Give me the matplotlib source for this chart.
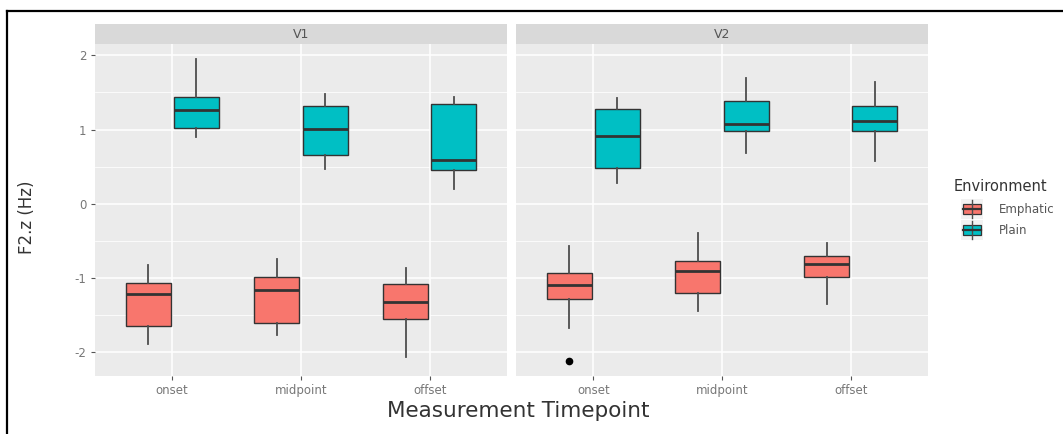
import numpy as np
import matplotlib
matplotlib.use("Agg")
import matplotlib.pyplot as plt
from matplotlib.patches import Rectangle
from matplotlib.lines import Line2D
from matplotlib.ticker import FixedLocator

# ---- data -------------------------------------------------------------
timepoints = ["onset", "midpoint", "offset"]
vowels = ["V1", "V2"]
environments = ["Emphatic", "Plain"]
env_colors = ["#F8766D", "#00BFC4"]

# V1, Emphatic
v1_emph_whislo = [-1.89, -1.77, -2.07]
v1_emph_q1 = [-1.65, -1.61, -1.56]
v1_emph_med = [-1.22, -1.16, -1.33]
v1_emph_q3 = [-1.07, -0.99, -1.08]
v1_emph_whishi = [-0.83, -0.74, -0.87]
v1_emph_outliers = [[], [], []]

# V1, Plain
v1_plain_whislo = [0.90, 0.47, 0.20]
v1_plain_q1 = [1.02, 0.66, 0.45]
v1_plain_med = [1.27, 1.01, 0.59]
v1_plain_q3 = [1.44, 1.32, 1.34]
v1_plain_whishi = [1.95, 1.48, 1.44]
v1_plain_outliers = [[], [], []]

# V2, Emphatic
v2_emph_whislo = [-1.67, -1.45, -1.35]
v2_emph_q1 = [-1.29, -1.20, -0.99]
v2_emph_med = [-1.10, -0.91, -0.81]
v2_emph_q3 = [-0.94, -0.77, -0.70]
v2_emph_whishi = [-0.57, -0.40, -0.53]
v2_emph_outliers = [[-2.12], [], []]

# V2, Plain
v2_plain_whislo = [0.28, 0.68, 0.57]
v2_plain_q1 = [0.48, 0.98, 0.98]
v2_plain_med = [0.91, 1.07, 1.11]
v2_plain_q3 = [1.28, 1.39, 1.32]
v2_plain_whishi = [1.42, 1.69, 1.64]
v2_plain_outliers = [[], [], []]

y_ticks = [-2, -1, 0, 1, 2]
y_minor = [-1.5, -0.5, 0.5, 1.5]

panel_data = {
    "V1": [
        (v1_emph_whislo, v1_emph_q1, v1_emph_med, v1_emph_q3, v1_emph_whishi, v1_emph_outliers),
        (v1_plain_whislo, v1_plain_q1, v1_plain_med, v1_plain_q3, v1_plain_whishi, v1_plain_outliers),
    ],
    "V2": [
        (v2_emph_whislo, v2_emph_q1, v2_emph_med, v2_emph_q3, v2_emph_whishi, v2_emph_outliers),
        (v2_plain_whislo, v2_plain_q1, v2_plain_med, v2_plain_q3, v2_plain_whishi, v2_plain_outliers),
    ],
}

# ---- figure -----------------------------------------------------------
W, H = 1063, 434
fig = plt.figure(figsize=(W / 100, H / 100), dpi=100)
fig.patch.set_facecolor("white")


def fx(x):
    return x / W


def fy(y):
    return 1 - y / H


panel_top, panel_bottom = 44, 376
strip_h = 20
panel_lefts = [95, 516]
panel_w = 412

all_vals = []
for v in vowels:
    for grp in panel_data[v]:
        all_vals += grp[0] + grp[4] + sum(grp[5], [])
lo, hi = min(all_vals), max(all_vals)
pad = 0.05 * (hi - lo)
ylim = (lo - pad, hi + pad)

dodge = 0.1875
box_w = 0.35
edge = "#333333"

axes = []
for i, v in enumerate(vowels):
    ax = fig.add_axes([fx(panel_lefts[i]), fy(panel_bottom), panel_w / W,
                       (panel_bottom - panel_top) / H])
    axes.append(ax)
    ax.set_facecolor("#EBEBEB")
    for s in ax.spines.values():
        s.set_visible(False)
    ax.set_axisbelow(True)

    x = np.arange(len(timepoints))
    for j, (env, col) in enumerate(zip(environments, env_colors)):
        wl, q1, md, q3, wh, fl = panel_data[v][j]
        stats = [dict(whislo=wl[k], q1=q1[k], med=md[k], q3=q3[k], whishi=wh[k],
                      fliers=fl[k]) for k in range(len(timepoints))]
        ax.bxp(stats, positions=x + (j - 0.5) * 2 * dodge, widths=box_w,
               patch_artist=True, showcaps=False, manage_ticks=False,
               boxprops=dict(facecolor=col, edgecolor=edge, linewidth=1.0),
               medianprops=dict(color=edge, linewidth=2.0),
               whiskerprops=dict(color="#4d4d4d", linewidth=1.3),
               flierprops=dict(marker="o", markerfacecolor="black",
                               markeredgecolor="black", markersize=4.5))

    ax.set_xlim(-0.6, len(timepoints) - 0.4)
    ax.set_ylim(*ylim)
    ax.set_xticks(x)
    ax.set_xticklabels(timepoints, fontsize=8.5, color="#777777")
    ax.set_yticks(y_ticks)
    ax.yaxis.set_minor_locator(FixedLocator(y_minor))
    if i == 0:
        ax.set_yticklabels([str(t) for t in y_ticks], fontsize=8.5, color="#777777")
    else:
        ax.set_yticklabels([])
    ax.tick_params(axis="both", which="major", length=3, width=0.8,
                   color="#555555", pad=3)
    ax.tick_params(axis="y", which="minor", length=0)
    if i == 1:
        ax.tick_params(axis="y", which="major", length=0)
    ax.grid(which="major", color="white", linewidth=1.1)
    ax.grid(which="minor", axis="y", color="white", linewidth=0.55)

    # facet strip
    sh = strip_h / (panel_bottom - panel_top)
    ax.add_patch(Rectangle((0, 1), 1, sh, transform=ax.transAxes, clip_on=False,
                           facecolor="#D9D9D9", edgecolor="none"))
    ax.text(0.5, 1 + sh / 2, v, transform=ax.transAxes, ha="center", va="center",
            fontsize=9, color="#555555")

# axis titles
fig.text(fx(518), fy(411), "Measurement Timepoint", ha="center", va="center",
         fontsize=15.5, color="#333333")
fig.text(fx(27), fy(217), "F2.z (Hz)", ha="center", va="center", rotation=90,
         fontsize=12, color="#333333")

# legend
fig.text(fx(954), fy(187), "Environment", ha="left", va="center", fontsize=10.5,
         color="#333333")
key_cy = [209, 230]
for cy, env, col in zip(key_cy, environments, env_colors):
    fig.add_artist(Rectangle((fx(961), fy(cy + 10)), 22 / W, 20 / H,
                             transform=fig.transFigure, facecolor="#F2F2F2",
                             edgecolor="none"))
    fig.add_artist(Line2D([fx(972), fx(972)], [fy(cy - 9), fy(cy + 9)],
                          transform=fig.transFigure, color="#4d4d4d", linewidth=1.0))
    fig.add_artist(Rectangle((fx(963), fy(cy + 5)), 18 / W, 10 / H,
                             transform=fig.transFigure, facecolor=col,
                             edgecolor=edge, linewidth=0.9))
    fig.add_artist(Line2D([fx(963), fx(981)], [fy(cy), fy(cy)],
                          transform=fig.transFigure, color=edge, linewidth=1.6))
    fig.text(fx(999), fy(cy), env, ha="left", va="center", fontsize=8.5,
             color="#555555")

# outer frame (left and top edges)
fig.add_artist(Line2D([fx(7), fx(7)], [fy(11), 0], transform=fig.transFigure,
                      color="black", linewidth=1.6))
fig.add_artist(Line2D([fx(7), 1], [fy(11), fy(11)], transform=fig.transFigure,
                      color="black", linewidth=1.6))

fig.savefig("out.png", dpi=100)
